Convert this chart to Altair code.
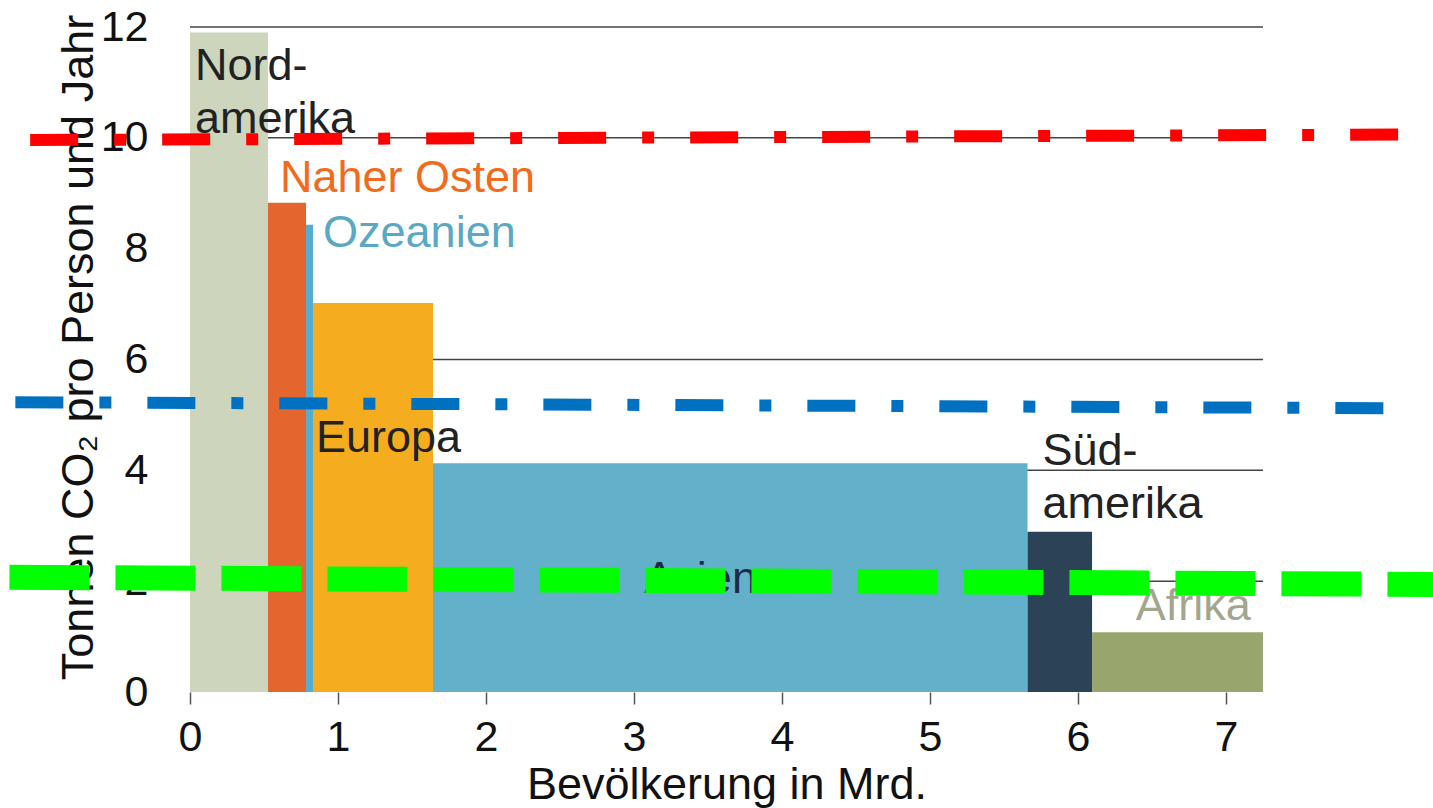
import altair as alt
import pandas as pd

# --- data ---
regions = ["Nordamerika", "Naher Osten", "Ozeanien", "Europa", "Asien", "Südamerika", "Afrika"]
population_bn = [0.527, 0.257, 0.047, 0.811, 4.017, 0.436, 1.155]   # Mrd. Menschen (bar widths)
co2_per_person = [11.9, 8.83, 8.43, 7.02, 4.13, 2.89, 1.08]        # t CO2 pro Person und Jahr
bar_colors = ["#cdd5bd", "#e5652e", "#55acd0", "#f5ac1e", "#62b0c9", "#2c4257", "#98a56d"]

x_ticks = [0, 1, 2, 3, 4, 5, 6, 7]
y_ticks = [0, 2, 4, 6, 8, 10, 12]
grid_levels = [2, 4, 6, 10, 12]

# region labels (annotation text)
label_text = ["Nord-\namerika", "Naher Osten", "Ozeanien", "Europa", "Asien", "Süd-\namerika", "Afrika"]
label_x = [0.034, 0.608, 0.899, 0.851, 3.07, 5.76, 6.39]
label_y = [11.05, 9.03, 8.03, 4.33, 1.79, 4.10, 1.30]
label_colors = ["#222222", "#f26a1b", "#5aa9c4", "#222222", "#1f2a44", "#222222", "#a3a68e"]

# overlaid reference lines (start/end points)
ref_names = ["rot", "blau", "grün"]
ref_x1 = [-1.08, -1.18, -1.22]
ref_x2 = [8.31, 8.18, 8.45]
ref_y1 = [9.96, 5.23, 2.07]
ref_y2 = [10.06, 5.12, 1.94]
ref_colors = ["#ff0000", "#0070c0", "#00ff00"]

# --- tables ---
starts, ends, acc = [], [], 0.0
for w in population_bn:
    starts.append(acc)
    acc += w
    ends.append(acc)
bars = pd.DataFrame({"region": regions, "x0": starts, "x1": ends, "y": co2_per_person,
                     "color": bar_colors})
labels = pd.DataFrame({"text": label_text, "x": label_x, "y": label_y, "color": label_colors})
grid = pd.DataFrame({"y": grid_levels, "x0": [0.0] * len(grid_levels), "x1": [acc] * len(grid_levels)})
refs = pd.DataFrame({"name": ref_names, "x1": ref_x1, "x2": ref_x2, "y1": ref_y1, "y2": ref_y2,
                     "color": ref_colors})

FONT = "Liberation Sans"
XMAX = 7.25

xscale = alt.Scale(domain=[0, XMAX], nice=False, zero=False)
yscale = alt.Scale(domain=[0, 12], nice=False)

x_axis = alt.Axis(values=x_ticks, format="d", title="Bevölkerung in Mrd.", grid=False, domain=False,
                  ticks=True, tickSize=12, tickColor="#555555", tickWidth=1.5,
                  labelFontSize=43, labelFont=FONT, labelColor="#111111",
                  labelPadding=46, labelBaseline="alphabetic", labelFlush=False,
                  titleFontSize=45, titleFont=FONT, titleFontWeight="normal", titleColor="#111111",
                  titleBaseline="alphabetic", titleY=106, titleAnchor="middle")
y_axis = alt.Axis(values=y_ticks, format="d", title="Tonnen CO₂ pro Person und Jahr", grid=False,
                  domain=False, ticks=False, tickSize=0, labelFontSize=43, labelFont=FONT,
                  labelColor="#111111", labelPadding=42, labelFlush=False,
                  titleFontSize=45, titleFont=FONT, titleFontWeight="normal", titleColor="#111111",
                  titleAngle=270, titleBaseline="alphabetic", titleAlign="center",
                  titleX=-98, titleY=320)

grid_layer = alt.Chart(grid).mark_rule(color="#444444", strokeWidth=1.5).encode(
    x=alt.X("x0:Q", scale=xscale, axis=x_axis),
    x2="x1:Q",
    y=alt.Y("y:Q", scale=yscale, axis=y_axis),
)

bar_layer = alt.Chart(bars).mark_rect(opacity=1).encode(
    x=alt.X("x0:Q", scale=xscale),
    x2="x1:Q",
    y=alt.Y("y:Q", scale=yscale),
    y2=alt.datum(0),
    color=alt.Color("color:N", scale=None),
)

text_layer = alt.Chart(labels).mark_text(
    align="left", baseline="alphabetic", font=FONT, fontSize=45, lineBreak="\n", lineHeight=53
).encode(
    x=alt.X("x:Q", scale=xscale),
    y=alt.Y("y:Q", scale=yscale),
    text="text:N",
    color=alt.Color("color:N", scale=None),
)

dashdot = refs[refs["name"] != "grün"]
dashed = refs[refs["name"] == "grün"]

dashdot_layer = alt.Chart(dashdot).mark_rule(
    strokeWidth=12, strokeDash=[48, 36, 12, 36], strokeCap="butt", clip=False
).encode(
    x=alt.X("x1:Q", scale=xscale), x2="x2:Q",
    y=alt.Y("y1:Q", scale=yscale), y2="y2:Q",
    color=alt.Color("color:N", scale=None),
)

dashed_layer = alt.Chart(dashed).mark_rule(
    strokeWidth=25, strokeDash=[80, 26], strokeCap="butt", clip=False
).encode(
    x=alt.X("x1:Q", scale=xscale), x2="x2:Q",
    y=alt.Y("y1:Q", scale=yscale), y2="y2:Q",
    color=alt.Color("color:N", scale=None),
)

chart = alt.layer(grid_layer, bar_layer, text_layer, dashdot_layer, dashed_layer).properties(
    width=1073, height=665,
    autosize=alt.AutoSizeParams(type="none"),
    padding={"left": 190, "top": 27, "right": 170, "bottom": 116},
    background="white",
).configure_view(stroke=None)

chart.save("out.html", embed_options={"renderer": "svg", "actions": False})
